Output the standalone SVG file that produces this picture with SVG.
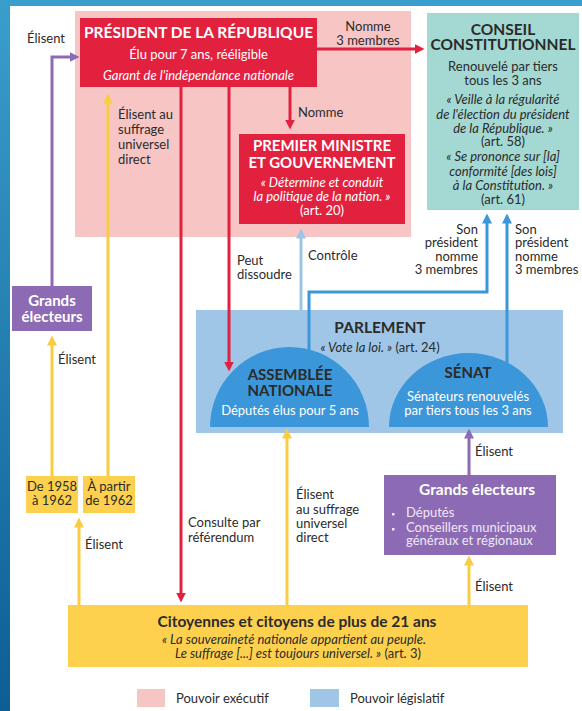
<svg xmlns="http://www.w3.org/2000/svg" width="582" height="711" viewBox="0 0 582 711">
<defs>
<linearGradient id="bandV" x1="0" y1="0" x2="0" y2="1"><stop offset="0" stop-color="#3a9ecc"/><stop offset="1" stop-color="#0d5e95"/></linearGradient>
<marker id="mRed" viewBox="0 0 10 10" refX="0.5" refY="5" markerWidth="10" markerHeight="11" markerUnits="userSpaceOnUse" orient="auto"><path d="M0,0 L10,5 L0,10 z" fill="#e2213f"/></marker>
<marker id="mYel" viewBox="0 0 10 10" refX="0.5" refY="5" markerWidth="10" markerHeight="11" markerUnits="userSpaceOnUse" orient="auto"><path d="M0,0 L10,5 L0,10 z" fill="#f9cc45"/></marker>
<marker id="mPur" viewBox="0 0 10 10" refX="0.5" refY="5" markerWidth="10" markerHeight="11" markerUnits="userSpaceOnUse" orient="auto"><path d="M0,0 L10,5 L0,10 z" fill="#8d6bb4"/></marker>
<marker id="mBlu" viewBox="0 0 10 10" refX="0.5" refY="5" markerWidth="10" markerHeight="11" markerUnits="userSpaceOnUse" orient="auto"><path d="M0,0 L10,5 L0,10 z" fill="#3b97d9"/></marker>
<marker id="mLbl" viewBox="0 0 10 10" refX="0.5" refY="5" markerWidth="10" markerHeight="11" markerUnits="userSpaceOnUse" orient="auto"><path d="M0,0 L10,5 L0,10 z" fill="#9cc4e6"/></marker>
</defs>
<style>
text{font-family:Lato,"Open Sans","Noto Sans",sans-serif;font-size:13px;fill:#2b2b2b}
.b{font-weight:bold;font-size:15px}
.bb{font-weight:bold;font-size:15.5px}
.i{font-style:italic}
.w{fill:#ffffff}
.c{text-anchor:middle}
.r{text-anchor:end}
.ln{fill:none;stroke-width:3}
.red{stroke:#e2213f}
.yel{stroke:#f9cc45}
.pur{stroke:#8d6bb4}
.blu{stroke:#3b97d9}
.lbl{stroke:#9cc4e6}
.lw{fill:#efe8f5}
</style>
<rect width="582" height="711" fill="#ffffff"/>
<rect x="0" y="0" width="582" height="6" fill="#3a9fcd"/>
<rect x="0" y="0" width="10" height="711" fill="url(#bandV)"/>

<g id="executif-zone"><rect x="75" y="11" width="336" height="226" fill="#f6c5c4"/></g>
<g id="parlement">
<rect x="196" y="310" width="367" height="123" fill="#9fc6e6"/>
<text class="bb c" x="380" y="333">PARLEMENT</text>
<text class="c" x="380" y="352"><tspan class="i">« Vote la loi. »</tspan> (art. 24)</text>
</g>

<g id="connectors">
<path class="ln pur" d="M52,286 V57 H70" marker-end="url(#mPur)"/>
<path class="ln yel" d="M108,476 V103" marker-end="url(#mYel)"/>
<path class="ln yel" d="M52,476 V345" marker-end="url(#mYel)"/>
<path class="ln yel" d="M79,605 V527" marker-end="url(#mYel)"/>
<path class="ln red" d="M181,87 V593" marker-end="url(#mRed)"/>
<path class="ln red" d="M229,87 V362" marker-end="url(#mRed)"/>
<path class="ln red" d="M290,87 V120" marker-end="url(#mRed)"/>
<path class="ln red" d="M317,49 H415" marker-end="url(#mRed)"/>
<path class="ln lbl" d="M301,310 V238" marker-end="url(#mLbl)"/>
<path class="ln blu" d="M309,352 V292 H487 V223" marker-end="url(#mBlu)"/>
<path class="ln blu" d="M507,365 V223" marker-end="url(#mBlu)"/>
<path class="ln yel" d="M287,605 V438" marker-end="url(#mYel)"/>
<path class="ln pur" d="M469,475 V438" marker-end="url(#mPur)"/>
<path class="ln yel" d="M469,605 V565" marker-end="url(#mYel)"/>
</g>

<g id="president">
<rect x="80" y="18" width="237" height="69" fill="#e2213f"/>
<text class="bb c w" x="198.5" y="38">PRÉSIDENT DE LA RÉPUBLIQUE</text>
<text class="c w" x="198.5" y="59">Élu pour 7 ans, rééligible</text>
<text class="c w i" x="198.5" y="80">Garant de l'indépendance nationale</text>
</g>

<g id="premier-ministre">
<rect x="239" y="134" width="166" height="90" fill="#e2213f"/>
<text class="b c w" x="322" y="151">PREMIER MINISTRE</text>
<text class="b c w" x="322" y="168">ET GOUVERNEMENT</text>
<text class="c w i" x="322" y="187">« Détermine et conduit</text>
<text class="c w i" x="322" y="201">la politique de la nation. »</text>
<text class="c w" x="322" y="215">(art. 20)</text>
</g>

<g id="conseil">
<rect x="427" y="13" width="152" height="197" fill="#a4d8d3"/>
<text class="bb c" x="503" y="35">CONSEIL</text>
<text class="bb c" x="503" y="50">CONSTITUTIONNEL</text>
<text class="c" x="503" y="71">Renouvelé par tiers</text>
<text class="c" x="503" y="85">tous les 3 ans</text>
<text class="c i" x="503" y="104">« Veille à la régularité</text>
<text class="c i" x="503" y="119">de l'élection du président</text>
<text class="c i" x="503" y="133">de la République. »</text>
<text class="c" x="503" y="146">(art. 58)</text>
<text class="c i" x="503" y="161">« Se prononce sur [la]</text>
<text class="c i" x="503" y="176">conformité [des lois]</text>
<text class="c i" x="503" y="190">à la Constitution. »</text>
<text class="c" x="503" y="204">(art. 61)</text>
</g>

<g id="assemblee">
<path d="M210,427 A79.5,80 0 0 1 369,427 Z" fill="#3b97d9"/>
<text class="b c" x="290" y="380">ASSEMBLÉE</text>
<text class="b c" x="290" y="396">NATIONALE</text>
<text class="c w" x="290" y="415">Députés élus  pour 5 ans</text>
</g>

<g id="senat">
<path d="M389,427 A79.5,74 0 0 1 548,427 Z" fill="#3b97d9"/>
<text class="b c" x="468" y="378">SÉNAT</text>
<text class="c w" x="468" y="401">Sénateurs renouvelés</text>
<text class="c w" x="468" y="415">par tiers tous les 3 ans</text>
</g>

<g id="grands-electeurs-pr">
<rect x="12" y="286" width="80" height="45" fill="#8d6bb4"/>
<text class="b c w" x="52" y="306">Grands</text>
<text class="b c w" x="52" y="322">électeurs</text>
</g>

<g id="de-1958">
<rect x="26" y="476" width="52" height="37" fill="#fdd14e"/>
<text class="c" x="52" y="491">De 1958</text>
<text class="c" x="52" y="505">à 1962</text>
</g>
<g id="a-partir-1962">
<rect x="83" y="476" width="52" height="37" fill="#fdd14e"/>
<text class="c" x="109" y="491">À partir</text>
<text class="c" x="109" y="505">de 1962</text>
</g>

<g id="grands-electeurs-senat">
<rect x="384" y="475" width="172" height="80" fill="#8d6bb4"/>
<text class="bb c w" x="477" y="495">Grands électeurs</text>
<rect x="392" y="513" width="2.5" height="2.5" class="lw"/>
<rect x="392" y="528" width="2.5" height="2.5" class="lw"/>
<text x="406" y="517" class="lw">Députés</text>
<text x="406" y="532" class="lw">Conseillers municipaux</text>
<text x="406" y="545" class="lw">généraux et régionaux</text>
</g>

<g id="citoyens">
<rect x="68" y="605" width="460" height="62" fill="#fdd14e"/>
<text class="bb c" x="297" y="627">Citoyennes et citoyens de plus de 21 ans</text>
<text class="c i" x="294" y="644">« La souveraineté nationale appartient au peuple.</text>
<text class="c" x="298" y="658"><tspan class="i">Le suffrage [...] est toujours universel. »</tspan> (art. 3)</text>
</g>

<g id="labels">
<text x="27" y="43">Élisent</text>
<text x="118" y="119">Élisent au</text>
<text x="118" y="134">suffrage</text>
<text x="118" y="149">universel</text>
<text x="118" y="164">direct</text>
<text x="298" y="117">Nomme</text>
<text class="c" x="368" y="31">Nomme</text>
<text class="c" x="368" y="45">3 membres</text>
<text x="237" y="265">Peut</text>
<text x="237" y="279">dissoudre</text>
<text x="308" y="260">Contrôle</text>
<text class="r" x="478" y="234">Son</text>
<text class="r" x="478" y="247">président</text>
<text class="r" x="478" y="261">nomme</text>
<text class="r" x="478" y="274">3 membres</text>
<text x="515" y="234">Son</text>
<text x="515" y="247">président</text>
<text x="515" y="261">nomme</text>
<text x="515" y="274">3 membres</text>
<text x="58" y="364">Élisent</text>
<text x="475" y="456">Élisent</text>
<text x="296" y="499">Élisent</text>
<text x="296" y="514">au suffrage</text>
<text x="296" y="528">universel</text>
<text x="296" y="542">direct</text>
<text x="188" y="527">Consulte par</text>
<text x="188" y="542">référendum</text>
<text x="85" y="549">Élisent</text>
<text x="475" y="591">Élisent</text>
</g>

<g id="legende">
<rect x="137" y="689" width="28" height="18" fill="#f6c5c4"/>
<text x="176" y="703">Pouvoir exécutif</text>
<rect x="310" y="689" width="29" height="18" fill="#9fc6e6"/>
<text x="350" y="703">Pouvoir législatif</text>
</g>
</svg>
